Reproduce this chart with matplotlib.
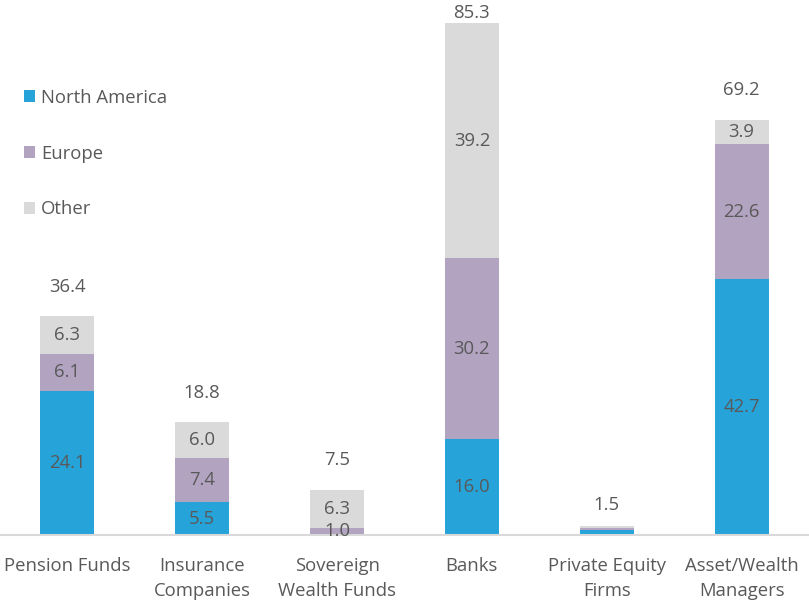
import matplotlib
matplotlib.use("Agg")
import matplotlib.pyplot as plt
import numpy as np

categories = ["Pension Funds", "Insurance\nCompanies", "Sovereign\nWealth Funds",
              "Banks", "Private Equity\nFirms", "Asset/Wealth\nManagers"]
north_america = [24.1, 5.5, 0.2, 16.0, 0.9, 42.7]
europe = [6.1, 7.4, 1.0, 30.2, 0.3, 22.6]
other = [6.3, 6.0, 6.3, 39.2, 0.3, 3.9]
totals = [36.4, 18.8, 7.5, 85.3, 1.5, 69.2]

series = [("North America", north_america, "#26A3D9"),
          ("Europe", europe, "#B2A3C1"),
          ("Other", other, "#DADADA")]

TXT = "#595959"
FS = 13.3
plt.rcParams["font.family"] = ["Open Sans", "DejaVu Sans"]

fig = plt.figure(figsize=(8.09, 6.0), dpi=100)
ax = fig.add_axes([0.0, 0.108, 1.0, 0.892])

x = np.arange(len(categories))
bottom = np.zeros(len(categories))
for name, vals, col in series:
    vals = np.array(vals)
    ax.bar(x, vals, 0.4, bottom=bottom, color=col, label=name)
    for xi, b, v in zip(x, bottom, vals):
        if v >= 1.0:
            ax.text(xi, b + v / 2, f"{v:.1f}", ha="center", va="center",
                    fontsize=FS, color=TXT)
    bottom += vals

ymax = 89.3
for xi, t in zip(x, totals):
    # total sits ~30px above the stack, less when the stack is tiny or near the top
    y = min(t + min(5.0, 2.0 + t), ymax - 2.2)
    ax.text(xi, y, f"{t:.1f}", ha="center", va="center", fontsize=FS, color=TXT)

ax.set_xlim(-0.5, 5.5)
ax.set_ylim(0, ymax)
ax.set_xticks(x)
ax.set_xticklabels(categories, fontsize=FS, color=TXT, linespacing=1.55)
ax.tick_params(axis="x", length=0, pad=15.5)
ax.set_yticks([])
for s in ["top", "right", "left"]:
    ax.spines[s].set_visible(False)
ax.spines["bottom"].set_color("#D9D9D9")
ax.spines["bottom"].set_linewidth(1.5)

leg = ax.legend(loc="upper left", bbox_to_anchor=(0.02, 0.848), frameon=False,
                fontsize=FS, handlelength=0.6, handleheight=0.6,
                handletextpad=0.35, labelspacing=2.05, borderaxespad=0)
for t in leg.get_texts():
    t.set_color(TXT)

fig.savefig("out.png", dpi=100)
